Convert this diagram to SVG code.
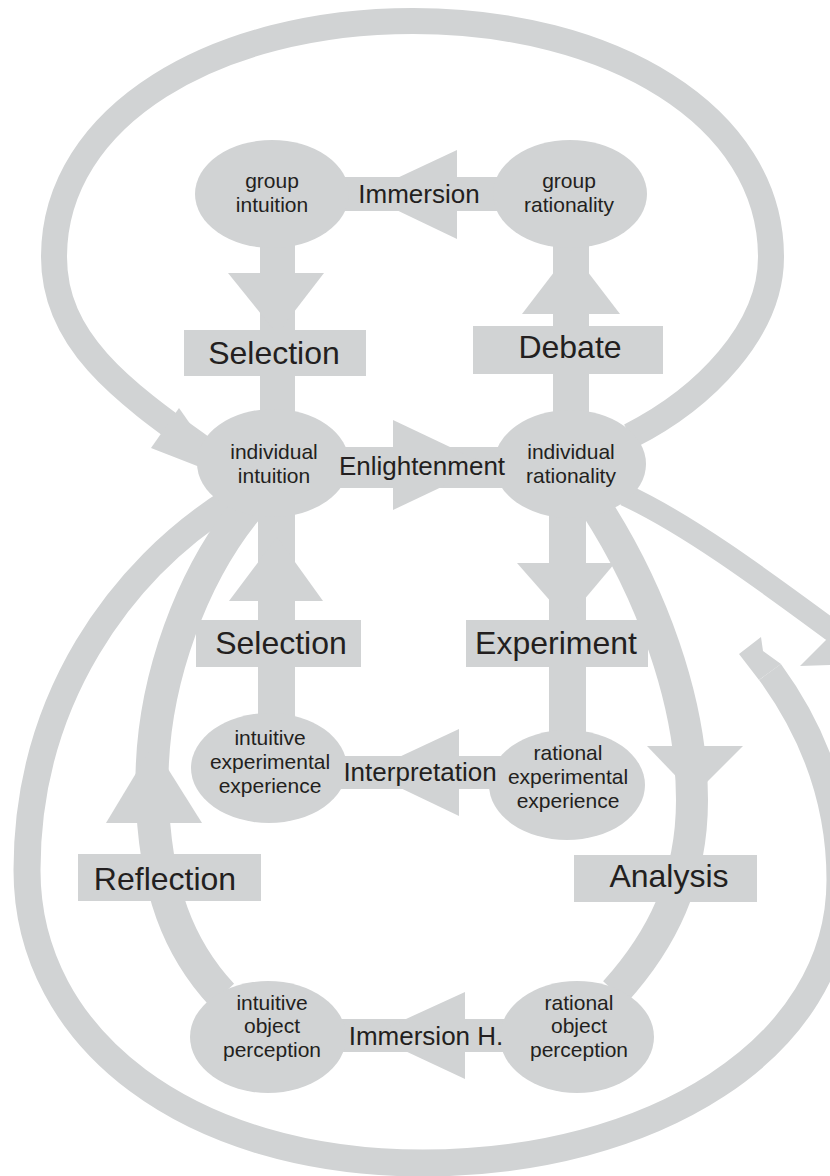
<svg xmlns="http://www.w3.org/2000/svg" width="830" height="1176" viewBox="0 0 830 1176">
<style>
.g{fill:#d1d3d4}
.band{fill:none;stroke:#d1d3d4;stroke-linejoin:round}
text{font-family:"Liberation Sans",Arial,Helvetica,sans-serif;fill:#231f20;text-anchor:middle}
.n{font-size:21px}
.e{font-size:26px}
.b{font-size:32px}
</style>
<rect width="830" height="1176" fill="#fff"/>
<g id="connectors">
  <!-- big top loop -->
  <path class="band" stroke-width="26" d="M 630 436 C 705 398, 771 330, 771 257 C 771 115, 610 21, 413 21 C 216 21, 54 115, 54 257 C 54 340, 120 390, 205 450"/>
  <polygon class="g" points="179,408 228,478 151,448"/>
  <!-- big bottom loop -->
  <path class="band" stroke-width="27" d="M 770 672 C 805 720, 840 790, 840 880 C 840 1050, 650 1163, 423 1163 C 190 1163, 27 1040, 27 870 C 27 700, 120 570, 232 500"/>
  <polygon class="g" points="739,654 761,637 763,651 781,664 759,680"/>
  <!-- right arc out of individual rationality -->
  <path class="band" stroke-width="22" d="M 625 495 C 690 525, 770 585, 834 632"/>
  <polygon class="g" points="800,666 868,598 866,664"/>
  <!-- Analysis arc -->
  <path class="band" stroke-width="32" d="M 595 505 C 650 590, 692 700, 692 800 C 692 880, 662 940, 615 992"/>
  <polygon class="g" points="647,746 743,746 694,795"/>
  <!-- Reflection arc -->
  <path class="band" stroke-width="33" d="M 250 505 C 195 570, 150 680, 152 790 C 154 890, 180 950, 222 995"/>
  <polygon class="g" points="106,823 202,823 153,745"/>
  <!-- straight bars -->
  <rect class="g" x="260" y="194" width="35" height="269"/>
  <rect class="g" x="553" y="194" width="36" height="270"/>
  <rect class="g" x="258" y="463" width="37" height="305"/>
  <rect class="g" x="549" y="464" width="37" height="321"/>
  <rect class="g" x="272" y="177" width="298" height="34"/>
  <rect class="g" x="273" y="447" width="297" height="41"/>
  <rect class="g" x="269" y="756" width="298" height="33"/>
  <rect class="g" x="268" y="1019" width="309" height="33"/>
  <!-- arrowheads -->
  <polygon class="g" points="457,150 457,239 363,194"/>
  <polygon class="g" points="228,273 324,273 277,334"/>
  <polygon class="g" points="522,314 620,314 571,250"/>
  <polygon class="g" points="393,420 393,510 488,465"/>
  <polygon class="g" points="229,601 323,601 277,537"/>
  <polygon class="g" points="517,563 615,563 567,620"/>
  <polygon class="g" points="459,729 459,816 367,772"/>
  <polygon class="g" points="465,992 465,1079 371,1035"/>
  <!-- label boxes -->
  <rect class="g" x="184" y="330" width="182" height="46"/>
  <rect class="g" x="473" y="326" width="190" height="48"/>
  <rect class="g" x="196" y="620" width="165" height="47"/>
  <rect class="g" x="466" y="620" width="182" height="47"/>
  <rect class="g" x="78" y="854" width="183" height="47"/>
  <rect class="g" x="574" y="855" width="183" height="47"/>
</g>
<g id="group-intuition">
  <ellipse class="g" cx="272" cy="194" rx="77" ry="54"/>
  <text class="n" x="272" y="188">group</text>
  <text class="n" x="272" y="212">intuition</text>
</g>
<g id="group-rationality">
  <ellipse class="g" cx="570" cy="194" rx="77" ry="54"/>
  <text class="n" x="569" y="188">group</text>
  <text class="n" x="569" y="212">rationality</text>
</g>
<g id="individual-intuition">
  <ellipse class="g" cx="273" cy="463" rx="76" ry="54"/>
  <text class="n" x="274" y="459">individual</text>
  <text class="n" x="274" y="483">intuition</text>
</g>
<g id="individual-rationality">
  <ellipse class="g" cx="570" cy="464" rx="76" ry="54"/>
  <text class="n" x="571" y="459">individual</text>
  <text class="n" x="571" y="483">rationality</text>
</g>
<g id="intuitive-experimental-experience">
  <ellipse class="g" cx="269" cy="768" rx="78" ry="55"/>
  <text class="n" x="270" y="745">intuitive</text>
  <text class="n" x="270" y="769">experimental</text>
  <text class="n" x="270" y="793">experience</text>
</g>
<g id="rational-experimental-experience">
  <ellipse class="g" cx="567" cy="785" rx="78" ry="55"/>
  <text class="n" x="568" y="760">rational</text>
  <text class="n" x="568" y="784">experimental</text>
  <text class="n" x="568" y="808">experience</text>
</g>
<g id="intuitive-object-perception">
  <ellipse class="g" cx="268" cy="1037" rx="78" ry="56"/>
  <text class="n" x="272" y="1010">intuitive</text>
  <text class="n" x="272" y="1033">object</text>
  <text class="n" x="272" y="1057">perception</text>
</g>
<g id="rational-object-perception">
  <ellipse class="g" cx="577" cy="1037" rx="77" ry="56"/>
  <text class="n" x="579" y="1010">rational</text>
  <text class="n" x="579" y="1033">object</text>
  <text class="n" x="579" y="1057">perception</text>
</g>
<g id="connector-labels">
  <text class="e" x="419" y="203">Immersion</text>
  <text class="b" x="274" y="364">Selection</text>
  <text class="b" x="570" y="358">Debate</text>
  <text class="e" x="422" y="475">Enlightenment</text>
  <text class="b" x="281" y="654">Selection</text>
  <text class="b" x="556" y="654">Experiment</text>
  <text class="e" x="420" y="781">Interpretation</text>
  <text class="b" x="165" y="890">Reflection</text>
  <text class="b" x="669" y="887">Analysis</text>
  <text class="e" x="426" y="1045">Immersion H.</text>
</g>
</svg>
